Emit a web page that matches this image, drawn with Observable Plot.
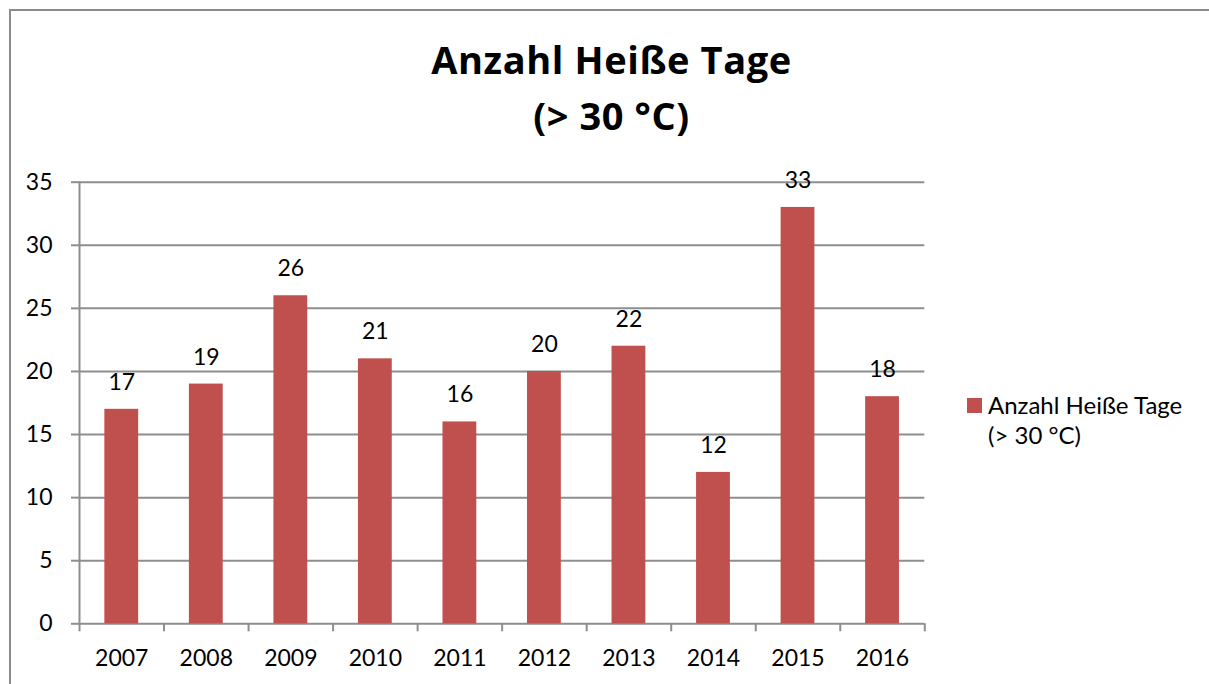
<!DOCTYPE html>
<html>
<head>
<meta charset="utf-8">
<script src="https://cdn.jsdelivr.net/npm/d3@7"></script>
<script src="https://cdn.jsdelivr.net/npm/@observablehq/plot@0.6"></script>
<style>
  html, body { margin: 0; padding: 0; background: #fff; }
  #wrap { position: relative; width: 1209px; height: 684px; overflow: hidden; font-family: Lato, "Open Sans", sans-serif; color: #000; }
  #frame { position: absolute; left: 9px; top: 9px; width: 1300px; height: 800px; border-left: 2px solid #8c8c8c; border-top: 2px solid #8c8c8c; }
  #title { position: absolute; left: 0; top: 0; width: 1209px; text-align: center; font-family: "Open Sans", Lato, sans-serif; font-weight: 700; font-size: 38px; letter-spacing: 0.6px; line-height: 56px; padding-left: 14px; box-sizing: border-box; }
  #chart { position: absolute; left: 0; top: 160px; }
  #legend { position: absolute; left: 967px; top: 390px; font-size: 24px; line-height: 30px; }
  #legend .sw { position: absolute; left: 0; top: 8px; width: 15px; height: 15px; background: #C0504D; }
  #legend .tx { position: absolute; left: 21px; top: 0; white-space: nowrap; }
</style>
</head>
<body>
<div id="wrap">
  <div id="frame"></div>
  <div id="title"></div>
  <div id="chart"></div>
  <div id="legend"><div class="sw"></div><div class="tx"></div></div>
</div>
<script>
const titleLines = ["Anzahl Heiße Tage", "(> 30 °C)"];
const years = ["2007", "2008", "2009", "2010", "2011", "2012", "2013", "2014", "2015", "2016"];
const values = [17, 19, 26, 21, 16, 20, 22, 12, 33, 18];
const yTicks = [0, 5, 10, 15, 20, 25, 30, 35];
const seriesName = ["Anzahl Heiße Tage", "(> 30 °C)"];

const data = years.map((year, i) => ({ i, year, value: values[i] }));
const bounds = d3.range(years.length + 1);
const centers = years.map((_, i) => i + 0.5);

const gray = "#8e8e8e";
const barColor = "#C0504D";

document.getElementById("title").innerHTML = titleLines.map(t => `<div>${t}</div>`).join("");
document.getElementById("title").style.paddingTop = "31px";
document.querySelector("#legend .tx").innerHTML = seriesName.join("<br>");

const chart = Plot.plot({
  width: 1209,
  height: 524,
  marginLeft: 79,
  marginRight: 284.7,
  marginTop: 21.7,
  marginBottom: 60.7,
  style: { fontFamily: "Lato, 'Open Sans', sans-serif", fontSize: "23px", color: "#000", background: "transparent" },
  x: { type: "linear", domain: [0, years.length] },
  y: { domain: [0, 35] },
  marks: [
    Plot.ruleY(yTicks, { stroke: gray, strokeWidth: 2 }),
    Plot.ruleX([0], { y1: 0, y2: 35, stroke: gray, strokeWidth: 2 }),
    Plot.axisY(yTicks, { tickSize: 8, tickPadding: 19, stroke: gray, strokeWidth: 2, strokeOpacity: 1, fill: "#000", label: null }),
    Plot.axisX(bounds, { tickSize: 8, tickFormat: () => "", stroke: gray, strokeWidth: 2, strokeOpacity: 1, label: null }),
    Plot.axisX(centers, { tickSize: 0, tickPadding: 26, tickFormat: (d) => years[Math.floor(d)], fill: "#000", label: null }),
    Plot.rectY(data, { x1: d => d.i + 0.3, x2: d => d.i + 0.7, y: "value", fill: barColor }),
    Plot.text(data, { x: d => d.i + 0.5, y: "value", text: d => String(d.value), dy: -19.5, lineAnchor: "bottom", fill: "#000", fontSize: 23 })
  ]
});
document.getElementById("chart").appendChild(chart);
</script>
</body>
</html>
